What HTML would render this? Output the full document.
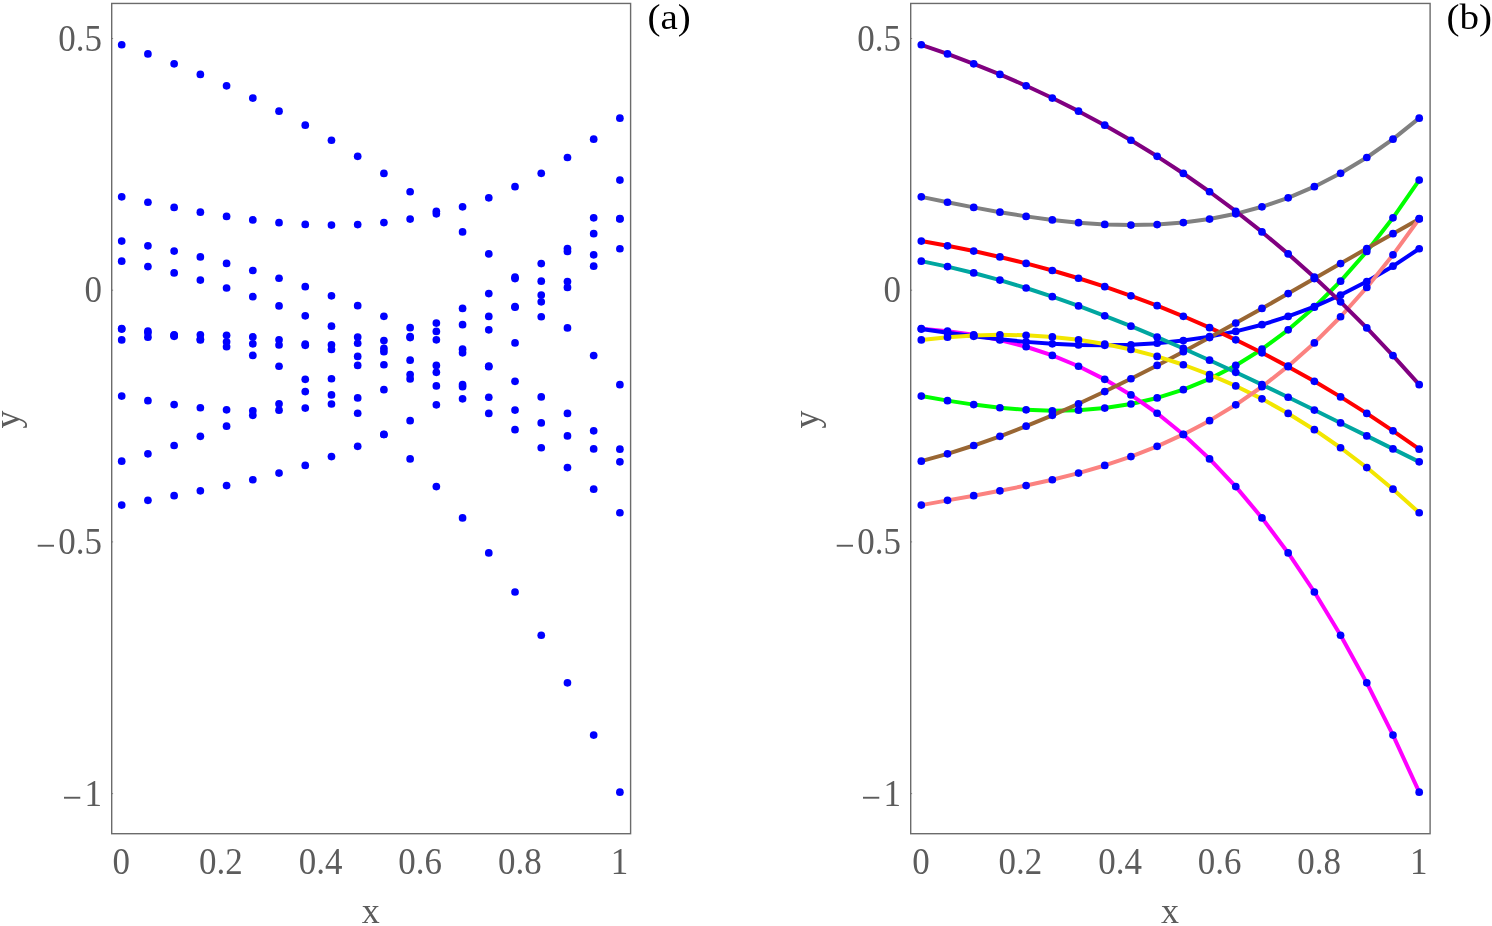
<!DOCTYPE html>
<html lang="en"><head><meta charset="utf-8"><title>Figure</title>
<style>
html,body{margin:0;padding:0;background:#fff;}
svg{display:block;}
text{font-family:"Liberation Serif","Times New Roman",serif;}
.t{font-size:35px;fill:#5c5c5c;}
.a{font-size:36px;fill:#5c5c5c;}
.l{font-size:40px;fill:#000;}
.d{fill:#0000ff;}
.c{fill:none;stroke-width:4;stroke-linejoin:round;stroke-linecap:round;}
.f{fill:none;stroke:#6b6b6b;stroke-width:1.4;}
.k{stroke:#6b6b6b;stroke-width:.8;}
</style></head>
<body>
<svg width="1492" height="926" viewBox="0 0 1492 926">
<rect width="1492" height="926" fill="#fff"/>
<g>
<g class="d"><circle cx="121.70" cy="396.06" r="3.85"/><circle cx="147.92" cy="400.64" r="3.85"/><circle cx="174.14" cy="404.61" r="3.85"/><circle cx="200.36" cy="407.75" r="3.85"/><circle cx="226.58" cy="409.87" r="3.85"/><circle cx="252.81" cy="410.76" r="3.85"/><circle cx="279.03" cy="410.22" r="3.85"/><circle cx="305.25" cy="408.04" r="3.85"/><circle cx="331.47" cy="404.02" r="3.85"/><circle cx="357.69" cy="397.96" r="3.85"/><circle cx="383.91" cy="389.65" r="3.85"/><circle cx="410.13" cy="378.89" r="3.85"/><circle cx="436.35" cy="365.47" r="3.85"/><circle cx="462.57" cy="349.19" r="3.85"/><circle cx="488.79" cy="329.85" r="3.85"/><circle cx="515.02" cy="307.25" r="3.85"/><circle cx="541.24" cy="281.17" r="3.85"/><circle cx="567.46" cy="251.42" r="3.85"/><circle cx="593.68" cy="217.79" r="3.85"/><circle cx="619.90" cy="180.08" r="3.85"/></g>
<g class="d"><circle cx="121.70" cy="328.68" r="3.85"/><circle cx="147.92" cy="331.12" r="3.85"/><circle cx="174.14" cy="334.80" r="3.85"/><circle cx="200.36" cy="339.95" r="3.85"/><circle cx="226.58" cy="346.77" r="3.85"/><circle cx="252.81" cy="355.47" r="3.85"/><circle cx="279.03" cy="366.26" r="3.85"/><circle cx="305.25" cy="379.34" r="3.85"/><circle cx="331.47" cy="394.94" r="3.85"/><circle cx="357.69" cy="413.25" r="3.85"/><circle cx="383.91" cy="434.50" r="3.85"/><circle cx="410.13" cy="458.88" r="3.85"/><circle cx="436.35" cy="486.61" r="3.85"/><circle cx="462.57" cy="517.91" r="3.85"/><circle cx="488.79" cy="552.97" r="3.85"/><circle cx="515.02" cy="592.01" r="3.85"/><circle cx="541.24" cy="635.23" r="3.85"/><circle cx="567.46" cy="682.86" r="3.85"/><circle cx="593.68" cy="735.10" r="3.85"/><circle cx="619.90" cy="792.15" r="3.85"/></g>
<g class="d"><circle cx="121.70" cy="329.06" r="3.85"/><circle cx="147.92" cy="332.83" r="3.85"/><circle cx="174.14" cy="336.29" r="3.85"/><circle cx="200.36" cy="339.34" r="3.85"/><circle cx="226.58" cy="341.87" r="3.85"/><circle cx="252.81" cy="343.79" r="3.85"/><circle cx="279.03" cy="344.99" r="3.85"/><circle cx="305.25" cy="345.37" r="3.85"/><circle cx="331.47" cy="344.82" r="3.85"/><circle cx="357.69" cy="343.26" r="3.85"/><circle cx="383.91" cy="340.56" r="3.85"/><circle cx="410.13" cy="336.63" r="3.85"/><circle cx="436.35" cy="331.38" r="3.85"/><circle cx="462.57" cy="324.69" r="3.85"/><circle cx="488.79" cy="316.46" r="3.85"/><circle cx="515.02" cy="306.60" r="3.85"/><circle cx="541.24" cy="295.00" r="3.85"/><circle cx="567.46" cy="281.56" r="3.85"/><circle cx="593.68" cy="266.17" r="3.85"/><circle cx="619.90" cy="248.74" r="3.85"/></g>
<g class="d"><circle cx="121.70" cy="241.06" r="3.85"/><circle cx="147.92" cy="245.78" r="3.85"/><circle cx="174.14" cy="251.07" r="3.85"/><circle cx="200.36" cy="256.94" r="3.85"/><circle cx="226.58" cy="263.41" r="3.85"/><circle cx="252.81" cy="270.52" r="3.85"/><circle cx="279.03" cy="278.27" r="3.85"/><circle cx="305.25" cy="286.71" r="3.85"/><circle cx="331.47" cy="295.84" r="3.85"/><circle cx="357.69" cy="305.69" r="3.85"/><circle cx="383.91" cy="316.29" r="3.85"/><circle cx="410.13" cy="327.67" r="3.85"/><circle cx="436.35" cy="339.83" r="3.85"/><circle cx="462.57" cy="352.81" r="3.85"/><circle cx="488.79" cy="366.64" r="3.85"/><circle cx="515.02" cy="381.32" r="3.85"/><circle cx="541.24" cy="396.89" r="3.85"/><circle cx="567.46" cy="413.38" r="3.85"/><circle cx="593.68" cy="430.80" r="3.85"/><circle cx="619.90" cy="449.17" r="3.85"/></g>
<g class="d"><circle cx="121.70" cy="461.17" r="3.85"/><circle cx="147.92" cy="453.83" r="3.85"/><circle cx="174.14" cy="445.52" r="3.85"/><circle cx="200.36" cy="436.28" r="3.85"/><circle cx="226.58" cy="426.21" r="3.85"/><circle cx="252.81" cy="415.34" r="3.85"/><circle cx="279.03" cy="403.77" r="3.85"/><circle cx="305.25" cy="391.55" r="3.85"/><circle cx="331.47" cy="378.75" r="3.85"/><circle cx="357.69" cy="365.44" r="3.85"/><circle cx="383.91" cy="351.68" r="3.85"/><circle cx="410.13" cy="337.55" r="3.85"/><circle cx="436.35" cy="323.10" r="3.85"/><circle cx="462.57" cy="308.41" r="3.85"/><circle cx="488.79" cy="293.54" r="3.85"/><circle cx="515.02" cy="278.57" r="3.85"/><circle cx="541.24" cy="263.55" r="3.85"/><circle cx="567.46" cy="248.55" r="3.85"/><circle cx="593.68" cy="233.65" r="3.85"/><circle cx="619.90" cy="218.90" r="3.85"/></g>
<g class="d"><circle cx="121.70" cy="339.96" r="3.85"/><circle cx="147.92" cy="337.20" r="3.85"/><circle cx="174.14" cy="335.46" r="3.85"/><circle cx="200.36" cy="334.81" r="3.85"/><circle cx="226.58" cy="335.29" r="3.85"/><circle cx="252.81" cy="336.95" r="3.85"/><circle cx="279.03" cy="339.84" r="3.85"/><circle cx="305.25" cy="344.01" r="3.85"/><circle cx="331.47" cy="349.52" r="3.85"/><circle cx="357.69" cy="356.42" r="3.85"/><circle cx="383.91" cy="364.75" r="3.85"/><circle cx="410.13" cy="374.57" r="3.85"/><circle cx="436.35" cy="385.93" r="3.85"/><circle cx="462.57" cy="398.87" r="3.85"/><circle cx="488.79" cy="413.45" r="3.85"/><circle cx="515.02" cy="429.72" r="3.85"/><circle cx="541.24" cy="447.74" r="3.85"/><circle cx="567.46" cy="467.54" r="3.85"/><circle cx="593.68" cy="489.19" r="3.85"/><circle cx="619.90" cy="512.73" r="3.85"/></g>
<g class="d"><circle cx="121.70" cy="261.14" r="3.85"/><circle cx="147.92" cy="266.62" r="3.85"/><circle cx="174.14" cy="272.96" r="3.85"/><circle cx="200.36" cy="280.11" r="3.85"/><circle cx="226.58" cy="288.02" r="3.85"/><circle cx="252.81" cy="296.64" r="3.85"/><circle cx="279.03" cy="305.91" r="3.85"/><circle cx="305.25" cy="315.78" r="3.85"/><circle cx="331.47" cy="326.20" r="3.85"/><circle cx="357.69" cy="337.11" r="3.85"/><circle cx="383.91" cy="348.47" r="3.85"/><circle cx="410.13" cy="360.21" r="3.85"/><circle cx="436.35" cy="372.30" r="3.85"/><circle cx="462.57" cy="384.66" r="3.85"/><circle cx="488.79" cy="397.26" r="3.85"/><circle cx="515.02" cy="410.04" r="3.85"/><circle cx="541.24" cy="422.94" r="3.85"/><circle cx="567.46" cy="435.91" r="3.85"/><circle cx="593.68" cy="448.90" r="3.85"/><circle cx="619.90" cy="461.86" r="3.85"/></g>
<g class="d"><circle cx="121.70" cy="505.12" r="3.85"/><circle cx="147.92" cy="500.37" r="3.85"/><circle cx="174.14" cy="495.67" r="3.85"/><circle cx="200.36" cy="490.80" r="3.85"/><circle cx="226.58" cy="485.56" r="3.85"/><circle cx="252.81" cy="479.73" r="3.85"/><circle cx="279.03" cy="473.10" r="3.85"/><circle cx="305.25" cy="465.47" r="3.85"/><circle cx="331.47" cy="456.62" r="3.85"/><circle cx="357.69" cy="446.34" r="3.85"/><circle cx="383.91" cy="434.42" r="3.85"/><circle cx="410.13" cy="420.66" r="3.85"/><circle cx="436.35" cy="404.83" r="3.85"/><circle cx="462.57" cy="386.74" r="3.85"/><circle cx="488.79" cy="366.16" r="3.85"/><circle cx="515.02" cy="342.89" r="3.85"/><circle cx="541.24" cy="316.73" r="3.85"/><circle cx="567.46" cy="287.45" r="3.85"/><circle cx="593.68" cy="254.85" r="3.85"/><circle cx="619.90" cy="218.71" r="3.85"/></g>
<g class="d"><circle cx="121.70" cy="196.86" r="3.85"/><circle cx="147.92" cy="202.25" r="3.85"/><circle cx="174.14" cy="207.40" r="3.85"/><circle cx="200.36" cy="212.16" r="3.85"/><circle cx="226.58" cy="216.39" r="3.85"/><circle cx="252.81" cy="219.94" r="3.85"/><circle cx="279.03" cy="222.68" r="3.85"/><circle cx="305.25" cy="224.46" r="3.85"/><circle cx="331.47" cy="225.12" r="3.85"/><circle cx="357.69" cy="224.54" r="3.85"/><circle cx="383.91" cy="222.56" r="3.85"/><circle cx="410.13" cy="219.04" r="3.85"/><circle cx="436.35" cy="213.83" r="3.85"/><circle cx="462.57" cy="206.80" r="3.85"/><circle cx="488.79" cy="197.80" r="3.85"/><circle cx="515.02" cy="186.67" r="3.85"/><circle cx="541.24" cy="173.29" r="3.85"/><circle cx="567.46" cy="157.50" r="3.85"/><circle cx="593.68" cy="139.17" r="3.85"/><circle cx="619.90" cy="118.13" r="3.85"/></g>
<g class="d"><circle cx="121.70" cy="44.77" r="3.85"/><circle cx="147.92" cy="53.94" r="3.85"/><circle cx="174.14" cy="63.81" r="3.85"/><circle cx="200.36" cy="74.41" r="3.85"/><circle cx="226.58" cy="85.81" r="3.85"/><circle cx="252.81" cy="98.04" r="3.85"/><circle cx="279.03" cy="111.16" r="3.85"/><circle cx="305.25" cy="125.21" r="3.85"/><circle cx="331.47" cy="140.25" r="3.85"/><circle cx="357.69" cy="156.32" r="3.85"/><circle cx="383.91" cy="173.47" r="3.85"/><circle cx="410.13" cy="191.76" r="3.85"/><circle cx="436.35" cy="211.23" r="3.85"/><circle cx="462.57" cy="231.92" r="3.85"/><circle cx="488.79" cy="253.89" r="3.85"/><circle cx="515.02" cy="277.19" r="3.85"/><circle cx="541.24" cy="301.87" r="3.85"/><circle cx="567.46" cy="327.97" r="3.85"/><circle cx="593.68" cy="355.55" r="3.85"/><circle cx="619.90" cy="384.64" r="3.85"/></g>
<rect class="f" x="111.70" y="3.45" width="518.90" height="830.25"/>
<line class="k" x1="111.70" y1="38.50" x2="113.10" y2="38.50"/>
<line class="k" x1="111.70" y1="290.20" x2="113.10" y2="290.20"/>
<line class="k" x1="111.70" y1="541.90" x2="113.10" y2="541.90"/>
<line class="k" x1="111.70" y1="793.60" x2="113.10" y2="793.60"/>
<text class="t" text-anchor="end" transform="translate(101.90,50.50) scale(1,1.075)">0.5</text>
<text class="t" text-anchor="end" transform="translate(101.90,302.20) scale(1,1.075)">0</text>
<text class="t" text-anchor="end" transform="translate(101.90,553.90) scale(1,1.075)"><tspan dy="4.2">−</tspan><tspan dy="-4.2" dx="2.4">0.5</tspan></text>
<text class="t" text-anchor="end" transform="translate(101.90,805.60) scale(1,1.075)"><tspan dy="4.2">−</tspan><tspan dy="-4.2" dx="2.4">1</tspan></text>
<text class="t" text-anchor="middle" transform="translate(121.30,874.40) scale(1,1.075)">0</text>
<text class="t" text-anchor="middle" transform="translate(220.94,874.40) scale(1,1.075)">0.2</text>
<text class="t" text-anchor="middle" transform="translate(320.58,874.40) scale(1,1.075)">0.4</text>
<text class="t" text-anchor="middle" transform="translate(420.22,874.40) scale(1,1.075)">0.6</text>
<text class="t" text-anchor="middle" transform="translate(519.86,874.40) scale(1,1.075)">0.8</text>
<text class="t" text-anchor="middle" transform="translate(619.50,874.40) scale(1,1.075)">1</text>
<text class="a" text-anchor="middle" x="370.65" y="923.00">x</text>
<text class="a" text-anchor="middle" transform="translate(18.70,419.58) rotate(-90)">y</text>
<text class="l" transform="translate(647.50,29.20) scale(0.975,0.92)">(a)</text>
</g>
<g>
<polyline class="c" stroke="#00ff00" points="921.30,396.06 947.51,400.64 973.71,404.61 999.92,407.75 1026.12,409.87 1052.33,410.76 1078.53,410.22 1104.74,408.04 1130.94,404.02 1157.15,397.96 1183.35,389.65 1209.56,378.89 1235.76,365.47 1261.97,349.19 1288.17,329.85 1314.38,307.25 1340.58,281.17 1366.79,251.42 1392.99,217.79 1419.20,180.08"/>
<polyline class="c" stroke="#ff00ff" points="921.30,328.68 947.51,331.12 973.71,334.80 999.92,339.95 1026.12,346.77 1052.33,355.47 1078.53,366.26 1104.74,379.34 1130.94,394.94 1157.15,413.25 1183.35,434.50 1209.56,458.88 1235.76,486.61 1261.97,517.91 1288.17,552.97 1314.38,592.01 1340.58,635.23 1366.79,682.86 1392.99,735.10 1419.20,792.15"/>
<polyline class="c" stroke="#0000ff" points="921.30,329.06 947.51,332.83 973.71,336.29 999.92,339.34 1026.12,341.87 1052.33,343.79 1078.53,344.99 1104.74,345.37 1130.94,344.82 1157.15,343.26 1183.35,340.56 1209.56,336.63 1235.76,331.38 1261.97,324.69 1288.17,316.46 1314.38,306.60 1340.58,295.00 1366.79,281.56 1392.99,266.17 1419.20,248.74"/>
<polyline class="c" stroke="#ff0000" points="921.30,241.06 947.51,245.78 973.71,251.07 999.92,256.94 1026.12,263.41 1052.33,270.52 1078.53,278.27 1104.74,286.71 1130.94,295.84 1157.15,305.69 1183.35,316.29 1209.56,327.67 1235.76,339.83 1261.97,352.81 1288.17,366.64 1314.38,381.32 1340.58,396.89 1366.79,413.38 1392.99,430.80 1419.20,449.17"/>
<polyline class="c" stroke="#996633" points="921.30,461.17 947.51,453.83 973.71,445.52 999.92,436.28 1026.12,426.21 1052.33,415.34 1078.53,403.77 1104.74,391.55 1130.94,378.75 1157.15,365.44 1183.35,351.68 1209.56,337.55 1235.76,323.10 1261.97,308.41 1288.17,293.54 1314.38,278.57 1340.58,263.55 1366.79,248.55 1392.99,233.65 1419.20,218.90"/>
<polyline class="c" stroke="#f2e600" points="921.30,339.96 947.51,337.20 973.71,335.46 999.92,334.81 1026.12,335.29 1052.33,336.95 1078.53,339.84 1104.74,344.01 1130.94,349.52 1157.15,356.42 1183.35,364.75 1209.56,374.57 1235.76,385.93 1261.97,398.87 1288.17,413.45 1314.38,429.72 1340.58,447.74 1366.79,467.54 1392.99,489.19 1419.20,512.73"/>
<polyline class="c" stroke="#00a6a0" points="921.30,261.14 947.51,266.62 973.71,272.96 999.92,280.11 1026.12,288.02 1052.33,296.64 1078.53,305.91 1104.74,315.78 1130.94,326.20 1157.15,337.11 1183.35,348.47 1209.56,360.21 1235.76,372.30 1261.97,384.66 1288.17,397.26 1314.38,410.04 1340.58,422.94 1366.79,435.91 1392.99,448.90 1419.20,461.86"/>
<polyline class="c" stroke="#fb8280" points="921.30,505.12 947.51,500.37 973.71,495.67 999.92,490.80 1026.12,485.56 1052.33,479.73 1078.53,473.10 1104.74,465.47 1130.94,456.62 1157.15,446.34 1183.35,434.42 1209.56,420.66 1235.76,404.83 1261.97,386.74 1288.17,366.16 1314.38,342.89 1340.58,316.73 1366.79,287.45 1392.99,254.85 1419.20,218.71"/>
<polyline class="c" stroke="#808080" points="921.30,196.86 947.51,202.25 973.71,207.40 999.92,212.16 1026.12,216.39 1052.33,219.94 1078.53,222.68 1104.74,224.46 1130.94,225.12 1157.15,224.54 1183.35,222.56 1209.56,219.04 1235.76,213.83 1261.97,206.80 1288.17,197.80 1314.38,186.67 1340.58,173.29 1366.79,157.50 1392.99,139.17 1419.20,118.13"/>
<polyline class="c" stroke="#800080" points="921.30,44.77 947.51,53.94 973.71,63.81 999.92,74.41 1026.12,85.81 1052.33,98.04 1078.53,111.16 1104.74,125.21 1130.94,140.25 1157.15,156.32 1183.35,173.47 1209.56,191.76 1235.76,211.23 1261.97,231.92 1288.17,253.89 1314.38,277.19 1340.58,301.87 1366.79,327.97 1392.99,355.55 1419.20,384.64"/>
<g class="d"><circle cx="921.30" cy="396.06" r="3.85"/><circle cx="947.51" cy="400.64" r="3.85"/><circle cx="973.71" cy="404.61" r="3.85"/><circle cx="999.92" cy="407.75" r="3.85"/><circle cx="1026.12" cy="409.87" r="3.85"/><circle cx="1052.33" cy="410.76" r="3.85"/><circle cx="1078.53" cy="410.22" r="3.85"/><circle cx="1104.74" cy="408.04" r="3.85"/><circle cx="1130.94" cy="404.02" r="3.85"/><circle cx="1157.15" cy="397.96" r="3.85"/><circle cx="1183.35" cy="389.65" r="3.85"/><circle cx="1209.56" cy="378.89" r="3.85"/><circle cx="1235.76" cy="365.47" r="3.85"/><circle cx="1261.97" cy="349.19" r="3.85"/><circle cx="1288.17" cy="329.85" r="3.85"/><circle cx="1314.38" cy="307.25" r="3.85"/><circle cx="1340.58" cy="281.17" r="3.85"/><circle cx="1366.79" cy="251.42" r="3.85"/><circle cx="1392.99" cy="217.79" r="3.85"/><circle cx="1419.20" cy="180.08" r="3.85"/></g>
<g class="d"><circle cx="921.30" cy="328.68" r="3.85"/><circle cx="947.51" cy="331.12" r="3.85"/><circle cx="973.71" cy="334.80" r="3.85"/><circle cx="999.92" cy="339.95" r="3.85"/><circle cx="1026.12" cy="346.77" r="3.85"/><circle cx="1052.33" cy="355.47" r="3.85"/><circle cx="1078.53" cy="366.26" r="3.85"/><circle cx="1104.74" cy="379.34" r="3.85"/><circle cx="1130.94" cy="394.94" r="3.85"/><circle cx="1157.15" cy="413.25" r="3.85"/><circle cx="1183.35" cy="434.50" r="3.85"/><circle cx="1209.56" cy="458.88" r="3.85"/><circle cx="1235.76" cy="486.61" r="3.85"/><circle cx="1261.97" cy="517.91" r="3.85"/><circle cx="1288.17" cy="552.97" r="3.85"/><circle cx="1314.38" cy="592.01" r="3.85"/><circle cx="1340.58" cy="635.23" r="3.85"/><circle cx="1366.79" cy="682.86" r="3.85"/><circle cx="1392.99" cy="735.10" r="3.85"/><circle cx="1419.20" cy="792.15" r="3.85"/></g>
<g class="d"><circle cx="921.30" cy="329.06" r="3.85"/><circle cx="947.51" cy="332.83" r="3.85"/><circle cx="973.71" cy="336.29" r="3.85"/><circle cx="999.92" cy="339.34" r="3.85"/><circle cx="1026.12" cy="341.87" r="3.85"/><circle cx="1052.33" cy="343.79" r="3.85"/><circle cx="1078.53" cy="344.99" r="3.85"/><circle cx="1104.74" cy="345.37" r="3.85"/><circle cx="1130.94" cy="344.82" r="3.85"/><circle cx="1157.15" cy="343.26" r="3.85"/><circle cx="1183.35" cy="340.56" r="3.85"/><circle cx="1209.56" cy="336.63" r="3.85"/><circle cx="1235.76" cy="331.38" r="3.85"/><circle cx="1261.97" cy="324.69" r="3.85"/><circle cx="1288.17" cy="316.46" r="3.85"/><circle cx="1314.38" cy="306.60" r="3.85"/><circle cx="1340.58" cy="295.00" r="3.85"/><circle cx="1366.79" cy="281.56" r="3.85"/><circle cx="1392.99" cy="266.17" r="3.85"/><circle cx="1419.20" cy="248.74" r="3.85"/></g>
<g class="d"><circle cx="921.30" cy="241.06" r="3.85"/><circle cx="947.51" cy="245.78" r="3.85"/><circle cx="973.71" cy="251.07" r="3.85"/><circle cx="999.92" cy="256.94" r="3.85"/><circle cx="1026.12" cy="263.41" r="3.85"/><circle cx="1052.33" cy="270.52" r="3.85"/><circle cx="1078.53" cy="278.27" r="3.85"/><circle cx="1104.74" cy="286.71" r="3.85"/><circle cx="1130.94" cy="295.84" r="3.85"/><circle cx="1157.15" cy="305.69" r="3.85"/><circle cx="1183.35" cy="316.29" r="3.85"/><circle cx="1209.56" cy="327.67" r="3.85"/><circle cx="1235.76" cy="339.83" r="3.85"/><circle cx="1261.97" cy="352.81" r="3.85"/><circle cx="1288.17" cy="366.64" r="3.85"/><circle cx="1314.38" cy="381.32" r="3.85"/><circle cx="1340.58" cy="396.89" r="3.85"/><circle cx="1366.79" cy="413.38" r="3.85"/><circle cx="1392.99" cy="430.80" r="3.85"/><circle cx="1419.20" cy="449.17" r="3.85"/></g>
<g class="d"><circle cx="921.30" cy="461.17" r="3.85"/><circle cx="947.51" cy="453.83" r="3.85"/><circle cx="973.71" cy="445.52" r="3.85"/><circle cx="999.92" cy="436.28" r="3.85"/><circle cx="1026.12" cy="426.21" r="3.85"/><circle cx="1052.33" cy="415.34" r="3.85"/><circle cx="1078.53" cy="403.77" r="3.85"/><circle cx="1104.74" cy="391.55" r="3.85"/><circle cx="1130.94" cy="378.75" r="3.85"/><circle cx="1157.15" cy="365.44" r="3.85"/><circle cx="1183.35" cy="351.68" r="3.85"/><circle cx="1209.56" cy="337.55" r="3.85"/><circle cx="1235.76" cy="323.10" r="3.85"/><circle cx="1261.97" cy="308.41" r="3.85"/><circle cx="1288.17" cy="293.54" r="3.85"/><circle cx="1314.38" cy="278.57" r="3.85"/><circle cx="1340.58" cy="263.55" r="3.85"/><circle cx="1366.79" cy="248.55" r="3.85"/><circle cx="1392.99" cy="233.65" r="3.85"/><circle cx="1419.20" cy="218.90" r="3.85"/></g>
<g class="d"><circle cx="921.30" cy="339.96" r="3.85"/><circle cx="947.51" cy="337.20" r="3.85"/><circle cx="973.71" cy="335.46" r="3.85"/><circle cx="999.92" cy="334.81" r="3.85"/><circle cx="1026.12" cy="335.29" r="3.85"/><circle cx="1052.33" cy="336.95" r="3.85"/><circle cx="1078.53" cy="339.84" r="3.85"/><circle cx="1104.74" cy="344.01" r="3.85"/><circle cx="1130.94" cy="349.52" r="3.85"/><circle cx="1157.15" cy="356.42" r="3.85"/><circle cx="1183.35" cy="364.75" r="3.85"/><circle cx="1209.56" cy="374.57" r="3.85"/><circle cx="1235.76" cy="385.93" r="3.85"/><circle cx="1261.97" cy="398.87" r="3.85"/><circle cx="1288.17" cy="413.45" r="3.85"/><circle cx="1314.38" cy="429.72" r="3.85"/><circle cx="1340.58" cy="447.74" r="3.85"/><circle cx="1366.79" cy="467.54" r="3.85"/><circle cx="1392.99" cy="489.19" r="3.85"/><circle cx="1419.20" cy="512.73" r="3.85"/></g>
<g class="d"><circle cx="921.30" cy="261.14" r="3.85"/><circle cx="947.51" cy="266.62" r="3.85"/><circle cx="973.71" cy="272.96" r="3.85"/><circle cx="999.92" cy="280.11" r="3.85"/><circle cx="1026.12" cy="288.02" r="3.85"/><circle cx="1052.33" cy="296.64" r="3.85"/><circle cx="1078.53" cy="305.91" r="3.85"/><circle cx="1104.74" cy="315.78" r="3.85"/><circle cx="1130.94" cy="326.20" r="3.85"/><circle cx="1157.15" cy="337.11" r="3.85"/><circle cx="1183.35" cy="348.47" r="3.85"/><circle cx="1209.56" cy="360.21" r="3.85"/><circle cx="1235.76" cy="372.30" r="3.85"/><circle cx="1261.97" cy="384.66" r="3.85"/><circle cx="1288.17" cy="397.26" r="3.85"/><circle cx="1314.38" cy="410.04" r="3.85"/><circle cx="1340.58" cy="422.94" r="3.85"/><circle cx="1366.79" cy="435.91" r="3.85"/><circle cx="1392.99" cy="448.90" r="3.85"/><circle cx="1419.20" cy="461.86" r="3.85"/></g>
<g class="d"><circle cx="921.30" cy="505.12" r="3.85"/><circle cx="947.51" cy="500.37" r="3.85"/><circle cx="973.71" cy="495.67" r="3.85"/><circle cx="999.92" cy="490.80" r="3.85"/><circle cx="1026.12" cy="485.56" r="3.85"/><circle cx="1052.33" cy="479.73" r="3.85"/><circle cx="1078.53" cy="473.10" r="3.85"/><circle cx="1104.74" cy="465.47" r="3.85"/><circle cx="1130.94" cy="456.62" r="3.85"/><circle cx="1157.15" cy="446.34" r="3.85"/><circle cx="1183.35" cy="434.42" r="3.85"/><circle cx="1209.56" cy="420.66" r="3.85"/><circle cx="1235.76" cy="404.83" r="3.85"/><circle cx="1261.97" cy="386.74" r="3.85"/><circle cx="1288.17" cy="366.16" r="3.85"/><circle cx="1314.38" cy="342.89" r="3.85"/><circle cx="1340.58" cy="316.73" r="3.85"/><circle cx="1366.79" cy="287.45" r="3.85"/><circle cx="1392.99" cy="254.85" r="3.85"/><circle cx="1419.20" cy="218.71" r="3.85"/></g>
<g class="d"><circle cx="921.30" cy="196.86" r="3.85"/><circle cx="947.51" cy="202.25" r="3.85"/><circle cx="973.71" cy="207.40" r="3.85"/><circle cx="999.92" cy="212.16" r="3.85"/><circle cx="1026.12" cy="216.39" r="3.85"/><circle cx="1052.33" cy="219.94" r="3.85"/><circle cx="1078.53" cy="222.68" r="3.85"/><circle cx="1104.74" cy="224.46" r="3.85"/><circle cx="1130.94" cy="225.12" r="3.85"/><circle cx="1157.15" cy="224.54" r="3.85"/><circle cx="1183.35" cy="222.56" r="3.85"/><circle cx="1209.56" cy="219.04" r="3.85"/><circle cx="1235.76" cy="213.83" r="3.85"/><circle cx="1261.97" cy="206.80" r="3.85"/><circle cx="1288.17" cy="197.80" r="3.85"/><circle cx="1314.38" cy="186.67" r="3.85"/><circle cx="1340.58" cy="173.29" r="3.85"/><circle cx="1366.79" cy="157.50" r="3.85"/><circle cx="1392.99" cy="139.17" r="3.85"/><circle cx="1419.20" cy="118.13" r="3.85"/></g>
<g class="d"><circle cx="921.30" cy="44.77" r="3.85"/><circle cx="947.51" cy="53.94" r="3.85"/><circle cx="973.71" cy="63.81" r="3.85"/><circle cx="999.92" cy="74.41" r="3.85"/><circle cx="1026.12" cy="85.81" r="3.85"/><circle cx="1052.33" cy="98.04" r="3.85"/><circle cx="1078.53" cy="111.16" r="3.85"/><circle cx="1104.74" cy="125.21" r="3.85"/><circle cx="1130.94" cy="140.25" r="3.85"/><circle cx="1157.15" cy="156.32" r="3.85"/><circle cx="1183.35" cy="173.47" r="3.85"/><circle cx="1209.56" cy="191.76" r="3.85"/><circle cx="1235.76" cy="211.23" r="3.85"/><circle cx="1261.97" cy="231.92" r="3.85"/><circle cx="1288.17" cy="253.89" r="3.85"/><circle cx="1314.38" cy="277.19" r="3.85"/><circle cx="1340.58" cy="301.87" r="3.85"/><circle cx="1366.79" cy="327.97" r="3.85"/><circle cx="1392.99" cy="355.55" r="3.85"/><circle cx="1419.20" cy="384.64" r="3.85"/></g>
<rect class="f" x="910.70" y="3.45" width="519.40" height="830.25"/>
<line class="k" x1="910.70" y1="38.50" x2="912.10" y2="38.50"/>
<line class="k" x1="910.70" y1="290.20" x2="912.10" y2="290.20"/>
<line class="k" x1="910.70" y1="541.90" x2="912.10" y2="541.90"/>
<line class="k" x1="910.70" y1="793.60" x2="912.10" y2="793.60"/>
<text class="t" text-anchor="end" transform="translate(900.90,50.50) scale(1,1.075)">0.5</text>
<text class="t" text-anchor="end" transform="translate(900.90,302.20) scale(1,1.075)">0</text>
<text class="t" text-anchor="end" transform="translate(900.90,553.90) scale(1,1.075)"><tspan dy="4.2">−</tspan><tspan dy="-4.2" dx="2.4">0.5</tspan></text>
<text class="t" text-anchor="end" transform="translate(900.90,805.60) scale(1,1.075)"><tspan dy="4.2">−</tspan><tspan dy="-4.2" dx="2.4">1</tspan></text>
<text class="t" text-anchor="middle" transform="translate(920.90,874.40) scale(1,1.075)">0</text>
<text class="t" text-anchor="middle" transform="translate(1020.48,874.40) scale(1,1.075)">0.2</text>
<text class="t" text-anchor="middle" transform="translate(1120.06,874.40) scale(1,1.075)">0.4</text>
<text class="t" text-anchor="middle" transform="translate(1219.64,874.40) scale(1,1.075)">0.6</text>
<text class="t" text-anchor="middle" transform="translate(1319.22,874.40) scale(1,1.075)">0.8</text>
<text class="t" text-anchor="middle" transform="translate(1418.80,874.40) scale(1,1.075)">1</text>
<text class="a" text-anchor="middle" x="1169.90" y="923.00">x</text>
<text class="a" text-anchor="middle" transform="translate(817.70,419.58) rotate(-90)">y</text>
<text class="l" transform="translate(1446.50,29.20) scale(0.975,0.92)">(b)</text>
</g>
</svg>
</body></html>
